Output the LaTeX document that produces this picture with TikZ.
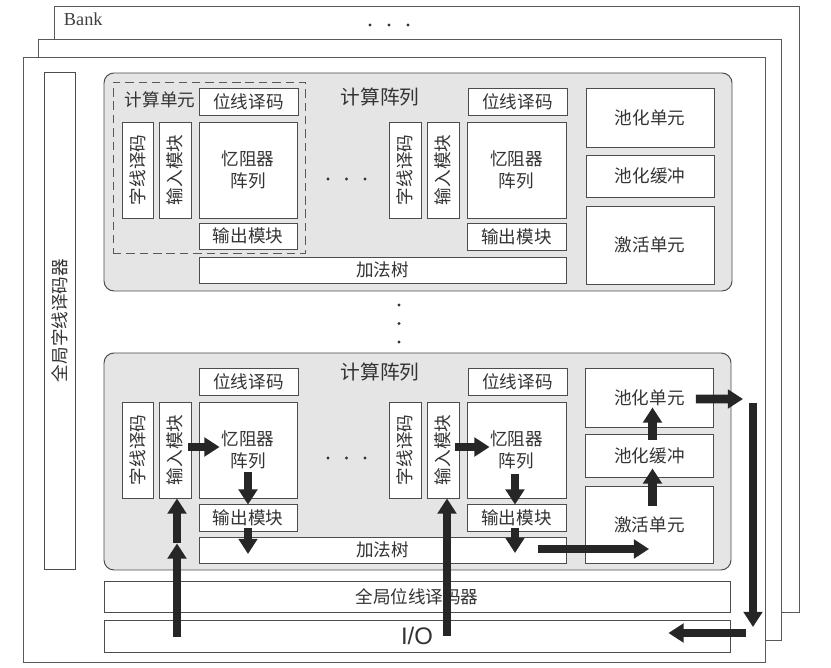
\documentclass[tikz,border=0pt]{standalone}
\usepackage{fontspec}
\usepackage{graphicx}
\newfontfamily\cnfont{Noto Sans CJK SC}
\newfontfamily\bankfont{Liberation Serif}
\newfontfamily\iofont{Liberation Sans}
\usetikzlibrary{positioning,arrows.meta,calc}

\begin{document}
\begin{tikzpicture}[
  x=0.025cm, y=-0.025cm,
  wh/.style 2 args={minimum width=#1*0.025cm, minimum height=#2*0.025cm},
  frameN/.style={draw=black!65, fill=white, line width=0.6pt, inner sep=0pt},
  arrayN/.style={draw=black!70, fill=black!10, rounded corners=0.25cm, line width=0.7pt, inner sep=0pt},
  cellN/.style={draw=black!65, dash pattern=on 6pt off 3.5pt, line width=0.7pt, inner sep=0pt},
  blockN/.style={draw=black!70, fill=white, line width=0.6pt, inner sep=0pt,
                 text=black!80, font=\cnfont\fontsize{12.5}{15.5}\selectfont, align=center},
  labelN/.style={text=black!80, font=\cnfont\fontsize{14}{16}\selectfont},
  flowA/.style={line width=0.22cm, black!85, -{Triangle[length=0.38cm, width=0.46cm]}}
]
\useasboundingbox (0,0) rectangle (831,668);
% Bank frames
\node[frameN, wh={745}{606}] (bank3) at (426.5,309) {};
\node[frameN, wh={743}{601}] (bank2) at (409.5,339.5) {};
\node[frameN, wh={742}{605}] (bank1) at (394,359.5) {};
\node[anchor=west, text=black!75, font=\bankfont\fontsize{13}{15}\selectfont] (bank) at (59,19) {Bank};
\foreach \i in {0,1,2} \fill[black!80] (370+19*\i,25) circle (1.6);
% Global word line decoder
\node[blockN, wh={31}{497}] (gwl) at (59.5,320.5) {\rotatebox{90}{全局字线译码器}};
% Upper compute array
\node[arrayN, wh={628}{218}] (arrT) at (418,182) {};
\node[cellN, wh={192}{171}] (cellT) at (209,167.5) {};
\node[labelN, font=\cnfont\fontsize{12.5}{15}\selectfont] (cellLbl) at (160,100) {计算单元};
\node[labelN] (arrLblT) at (380,97) {计算阵列};
\node[blockN, wh={99}{27}] (bl1t) at (248.5,101.5) {位线译码};
\node[blockN, wh={31}{96}] (wl1t) at (137.5,170) {\rotatebox{90}{字线译码}};
\node[blockN, wh={32}{96}] (in1t) at (175,170) {\rotatebox{90}{输入模块}};
\node[blockN, wh={98}{96}] (mem1t) at (248,170) {忆阻器\\阵列};
\node[blockN, wh={98}{26}] (out1t) at (248,236) {输出模块};
\node[blockN, wh={367}{26}] (addT) at (382.5,270) {加法树};
\foreach \i in {0,1,2} \fill[black!80] (328+18.5*\i,179) circle (1.6);
\node[blockN, wh={32}{96}] (wl2t) at (405,170) {\rotatebox{90}{字线译码}};
\node[blockN, wh={32}{96}] (in2t) at (443,170) {\rotatebox{90}{输入模块}};
\node[blockN, wh={99}{96}] (mem2t) at (516.5,170) {忆阻器\\阵列};
\node[blockN, wh={99}{27}] (bl2t) at (517.5,101.5) {位线译码};
\node[blockN, wh={99}{27}] (out2t) at (516.5,237) {输出模块};
\node[blockN, wh={128}{59}] (poolT) at (650,117.5) {池化单元};
\node[blockN, wh={128}{42}] (bufT) at (650,176) {池化缓冲};
\node[blockN, wh={128}{78}] (actT) at (650,245) {激活单元};
% vertical dots
\foreach \j in {0,1,2} \fill[black!80] (399,305+18.5*\j) circle (1.6);
% Lower compute array
\node[arrayN, wh={627}{217}] (arrB) at (417.5,461.5) {};
\node[labelN] (arrLblB) at (380,372) {计算阵列};
\node[blockN, wh={99}{27}] (bl1b) at (248.5,381.5) {位线译码};
\node[blockN, wh={31}{96}] (wl1b) at (137.5,450) {\rotatebox{90}{字线译码}};
\node[blockN, wh={32}{96}] (in1b) at (175,450) {\rotatebox{90}{输入模块}};
\node[blockN, wh={98}{96}] (mem1b) at (248,450) {忆阻器\\阵列};
\node[blockN, wh={98}{27}] (out1b) at (248,517.5) {输出模块};
\node[blockN, wh={367}{26}] (addB) at (382.5,550) {加法树};
\foreach \i in {0,1,2} \fill[black!80] (328+18.5*\i,458) circle (1.6);
\node[blockN, wh={32}{96}] (wl2b) at (405,450) {\rotatebox{90}{字线译码}};
\node[blockN, wh={32}{96}] (in2b) at (443,450) {\rotatebox{90}{输入模块}};
\node[blockN, wh={99}{96}] (mem2b) at (516.5,450) {忆阻器\\阵列};
\node[blockN, wh={99}{27}] (bl2b) at (517.5,381.5) {位线译码};
\node[blockN, wh={99}{27}] (out2b) at (516.5,517.5) {输出模块};
\node[blockN, wh={128}{59}] (poolB) at (649.5,397.5) {池化单元};
\node[blockN, wh={128}{43}] (bufB) at (649.5,455.5) {池化缓冲};
\node[blockN, wh={128}{77}] (actB) at (649.5,524.5) {激活单元};
% Global bit line decoder and I/O
\node[blockN, wh={626}{31}] (gbl) at (417,596.5) {全局位线译码器};
\node[blockN, wh={626}{32}, font=\iofont\fontsize{17}{19}\selectfont] (io) at (417,636) {I/O};
% Data flow
\coordinate (midIn) at ($(in1b.south)+(2,45)$);
\draw[flowA] ($(in1b.south |- io.center)+(2,1)$) -- (midIn);
\draw[flowA] (midIn) -- ($(in1b.south)+(2,0)$);
\draw[flowA] ($(in1b.east)+(-3,-3)$) -- ($(mem1b.west)+(21,-3)$);
\draw[flowA] ($(mem1b.south)+(0,-26)$) -- ($(out1b.north)+(0,1)$);
\draw[flowA] ($(out1b.south)+(0,-3)$) -- ($(out1b.south |- addB.center)+(0,4)$);
\draw[flowA] ($(in2b.south |- io.center)+(4,0)$) -- ($(in2b.south)+(4,0)$);
\draw[flowA] ($(in2b.east)+(-4,-3)$) -- ($(mem2b.west)+(23,-3)$);
\draw[flowA] ($(mem2b.south)+(-1.5,-24)$) -- ($(out2b.north)+(-1.5,1)$);
\draw[flowA] ($(out2b.south)+(-1.5,-3)$) -- ($(out2b.south |- addB.center)+(-1.5,3)$);
\draw[flowA] ($(addB.east)+(-28,-1)$) -- ($(actB.west |- addB.east)+(64,-1)$);
\draw[flowA] ($(actB.north)+(3,20)$) -- ($(bufB.south)+(3,-9)$);
\draw[flowA] ($(bufB.north)+(3,6)$) -- ($(poolB.south)+(3,-20)$);
\coordinate (turnT) at (753,399);
\coordinate (turnB) at (753,633);
\draw[flowA] ($(poolB.east)+(-18,1.5)$) -- ($(turnT)+(-10,0)$);
\draw[flowA] ($(turnT)+(0,4)$) -- ($(turnB)+(0,-6)$);
\draw[flowA] ($(turnB)+(-7,0)$) -- ($(io.east)+(-62,-3)$);
\end{tikzpicture}
\end{document}
